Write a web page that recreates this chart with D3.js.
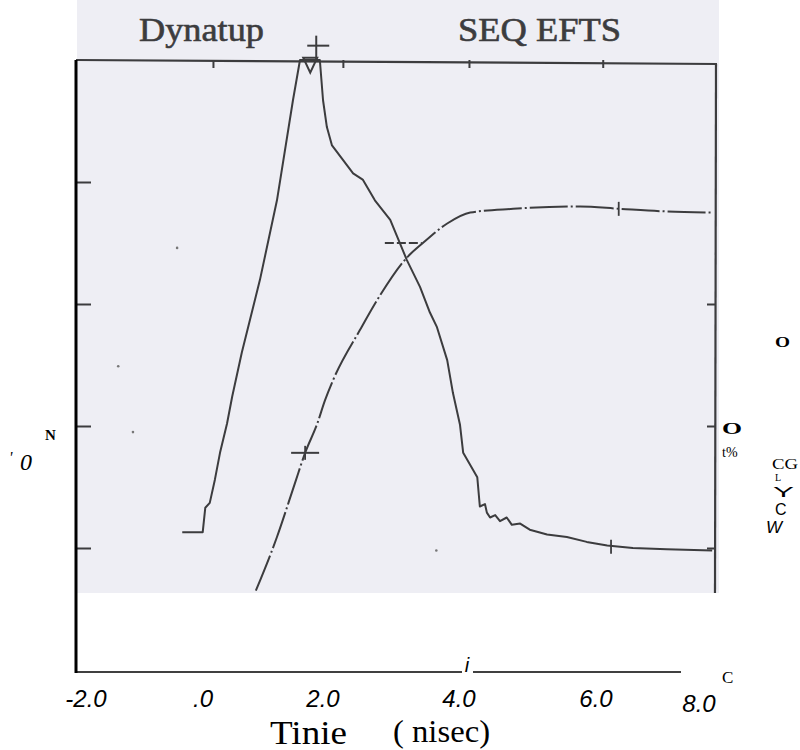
<!DOCTYPE html>
<html>
<head>
<meta charset="utf-8">
<script src="https://cdn.jsdelivr.net/npm/d3@7"></script>
<style>
  body { margin: 0; background: #fff; }
  svg { display: block; }
</style>
</head>
<body>
<div id="chart"></div>
<script>
// load trace and energy trace (time ms, arbitrary units)
var forceT = [-0.34, -0.02, 0.02, 0.09, 0.17, 0.25, 0.36, 0.44, 0.59, 0.875, 1.14, 1.39, 1.5, 1.81, 1.86, 1.92, 2.0,
              2.33, 2.48, 2.67, 2.91, 3.02, 3.17, 3.375, 3.53, 3.64, 3.80, 3.89, 4.0, 4.05, 4.27, 4.31, 4.39,
              4.42, 4.47, 4.55, 4.625, 4.73, 4.81, 4.94, 5.09, 5.36, 5.67, 5.98, 6.30, 6.70, 7.23, 7.94];
var forceV = [1.13, 1.13, 1.33, 1.37, 1.56, 1.78, 2.02, 2.24, 2.60, 3.20, 3.85, 4.67, 5.0, 5.0, 4.67, 4.45, 4.30,
              4.07, 4.02, 3.85, 3.69, 3.55, 3.36, 3.14, 2.93, 2.81, 2.54, 2.27, 2.01, 1.78, 1.58, 1.34, 1.36,
              1.29, 1.25, 1.27, 1.22, 1.25, 1.19, 1.20, 1.15, 1.11, 1.09, 1.05, 1.02, 1.00, 0.99, 0.98];

var energyT = [0.81, 1.14, 1.42, 1.58, 1.77, 1.89, 2.02, 2.44, 2.75, 3.17, 3.42, 3.80, 4.16, 4.83, 5.875, 6.5, 7.17, 7.95];
var energyV = [0.65, 1.09, 1.53, 1.78, 2.02, 2.21, 2.38, 2.79, 3.07, 3.38, 3.50, 3.66, 3.75, 3.78, 3.80, 3.78, 3.76, 3.75];

// little cursor marks drawn on the traces
var markT = [1.58, 3.06, 6.48, 6.36];
var markV = [1.78, 3.50, 3.78, 1.01];
var markKind = ["cross", "dash", "tick", "tick"];

// specks in the scan
var speckT = [-1.34, -1.11, 3.63, -0.42];
var speckV = [2.49, 1.95, 0.98, 3.46];

var xTickVals = [-2, 0, 2, 4, 6, 8];
var xTickLabels = ["-2.0", ".0", "2.0", "4.0", "6.0", "8.0"];
var topTicks = [0.14, 2.17, 4.14, 6.23];
var leftTicks = [1, 2, 3, 4];
var rightTicks = [1, 2, 3];

var width = 800, height = 750;

var x = d3.scaleLinear().domain([-2, 8]).range([76, 716]);
var y = d3.scaleLinear().domain([0, 5]).range([670, 60]);
// the printed tick labels sit unevenly under the axis
var xLab = d3.scaleLinear().domain(xTickVals).range([86, 203, 323, 459, 596, 699]);

var ink = "#3c3c3e";

var svg = d3.select("#chart").append("svg")
    .attr("width", width)
    .attr("height", height);

// scanned page
svg.append("rect")
    .attr("x", 77).attr("y", 0)
    .attr("width", 642).attr("height", 593)
    .attr("fill", "#eeeef4");

svg.append("text")
    .attr("x", 139).attr("y", 41)
    .attr("textLength", 125).attr("lengthAdjust", "spacingAndGlyphs")
    .style("font-family", "'Liberation Serif', serif")
    .style("font-size", "33px")
    .attr("fill", ink).attr("stroke", ink).attr("stroke-width", 0.6)
    .text("Dynatup");

svg.append("text")
    .attr("x", 458).attr("y", 41)
    .attr("textLength", 163).attr("lengthAdjust", "spacingAndGlyphs")
    .style("font-family", "'Liberation Serif', serif")
    .style("font-size", "33px")
    .attr("fill", ink).attr("stroke", ink).attr("stroke-width", 0.6)
    .text("SEQ EFTS");

// frame of the scanned plot
svg.append("line")
    .attr("x1", x(-2)).attr("y1", y(5))
    .attr("x2", x(8) + 1).attr("y2", y(5) + 4)
    .attr("stroke", ink).attr("stroke-width", 2.2);

svg.append("line")
    .attr("x1", x(8)).attr("y1", y(5) + 4)
    .attr("x2", x(8) - 1).attr("y2", 593)
    .attr("stroke", ink).attr("stroke-width", 2.2);

var topAxis = d3.axisBottom(x).tickValues(topTicks).tickSize(8).tickFormat("");
svg.append("g")
    .attr("class", "top axis")
    .attr("transform", "translate(0," + y(5) + ")")
    .call(topAxis);

var leftAxis = d3.axisRight(y).tickValues(leftTicks).tickSize(15).tickFormat("");
svg.append("g")
    .attr("class", "left axis")
    .attr("transform", "translate(" + x(-2) + ",0)")
    .call(leftAxis);

var rightAxis = d3.axisLeft(y).tickValues(rightTicks).tickSize(9).tickFormat("");
svg.append("g")
    .attr("class", "right axis")
    .attr("transform", "translate(" + x(8) + ",0)")
    .call(rightAxis);

svg.selectAll(".axis .domain").remove();
svg.selectAll(".axis line").attr("stroke", ink).attr("stroke-width", 2);

// traces
var line = d3.line()
    .x(function(d) { return x(d[0]); })
    .y(function(d) { return y(d[1]); });

svg.append("path")
    .datum(d3.zip(forceT, forceV))
    .attr("fill", "none")
    .attr("stroke", ink)
    .attr("stroke-width", 2)
    .attr("stroke-linejoin", "round")
    .attr("d", line);

svg.append("path")
    .datum(d3.zip(energyT, energyV))
    .attr("fill", "none")
    .attr("stroke", ink)
    .attr("stroke-width", 2)
    .attr("stroke-dasharray", "38,3,2,3")
    .attr("d", line.curve(d3.curveMonotoneX));

// cursor marks
var marks = svg.selectAll(".mark")
    .data(d3.zip(markT, markV, markKind))
  .enter().append("g")
    .attr("class", "mark")
    .attr("transform", function(d) { return "translate(" + x(d[0]) + "," + y(d[1]) + ")"; });

marks.filter(function(d) { return d[2] != "tick"; })
  .append("line")
    .attr("x1", function(d) { return d[2] == "cross" ? -14 : -15; })
    .attr("x2", function(d) { return d[2] == "cross" ? 14 : 22; })
    .attr("stroke", ink).attr("stroke-width", 2)
    .attr("stroke-dasharray", function(d) { return d[2] == "dash" ? "9,3" : null; });

marks.filter(function(d) { return d[2] != "dash"; })
  .append("line")
    .attr("y1", -7).attr("y2", 7)
    .attr("stroke", ink).attr("stroke-width", 1.8);

// peak marker above the clipped trace
var peak = svg.append("g")
    .attr("transform", "translate(" + x(1.66) + "," + y(4.97) + ")");
peak.append("path")
    .attr("d", "M-7,-6L7,-6L0,9Z")
    .attr("fill", "none").attr("stroke", ink).attr("stroke-width", 2);
peak.append("line")
    .attr("x1", 6).attr("x2", 6).attr("y1", -28).attr("y2", -4)
    .attr("stroke", ink).attr("stroke-width", 2);
peak.append("line")
    .attr("x1", -3).attr("x2", 19).attr("y1", -18).attr("y2", -18)
    .attr("stroke", ink).attr("stroke-width", 2);

svg.selectAll(".speck")
    .data(d3.zip(speckT, speckV))
  .enter().append("circle")
    .attr("class", "speck")
    .attr("cx", function(d) { return x(d[0]); })
    .attr("cy", function(d) { return y(d[1]); })
    .attr("r", 1.3)
    .attr("fill", "#777");

// redrawn axes below the scan
svg.append("line")
    .attr("x1", x(-2)).attr("y1", y(5))
    .attr("x2", x(-2)).attr("y2", 673)
    .attr("stroke", "#000").attr("stroke-width", 3);

svg.append("line")
    .attr("x1", x(-2)).attr("y1", 672).attr("x2", 462).attr("y2", 672)
    .attr("stroke", "#000").attr("stroke-width", 1.6);
svg.append("line")
    .attr("x1", 473).attr("y1", 672).attr("x2", 681).attr("y2", 672)
    .attr("stroke", "#000").attr("stroke-width", 1.6);

svg.append("text")
    .attr("x", 467).attr("y", 672)
    .attr("text-anchor", "middle")
    .style("font-family", "'Liberation Sans', Arial, sans-serif")
    .style("font-style", "italic")
    .style("font-size", "20px")
    .text("i");

svg.selectAll(".xlab")
    .data(xTickVals)
  .enter().append("text")
    .attr("class", "xlab")
    .attr("x", function(d) { return xLab(d); })
    .attr("y", function(d) { return d == 8 ? 712 : 707; })
    .attr("text-anchor", "middle")
    .style("font-family", "'Liberation Sans', Arial, sans-serif")
    .style("font-style", "italic")
    .style("font-size", "24px")
    .text(function(d, i) { return xTickLabels[i]; });

var serif = "'Liberation Serif', 'Times New Roman', serif";
var sans = "'Liberation Sans', Arial, sans-serif";

function label(t, px, py, size, opts) {
  opts = opts || {};
  var el = svg.append("text")
      .attr("x", px).attr("y", py)
      .style("font-family", opts.family || serif)
      .style("font-size", size + "px")
      .style("font-weight", opts.bold ? "bold" : "normal")
      .style("font-style", opts.italic ? "italic" : "normal")
      .text(t);
  if (opts.len) el.attr("textLength", opts.len).attr("lengthAdjust", "spacingAndGlyphs");
  return el;
}

label("Tinie", 270, 744, 33, {len: 77});
label("( nisec)", 393, 742, 32, {len: 97});
label("C", 722, 683, 17);

label("N", 45, 440, 15, {bold: true});
label("'", 9, 463, 16, {italic: true});
label("0", 20, 470, 24, {italic: true});

label("O", 775, 347, 14, {bold: true, len: 15});
label("O", 722, 434, 16, {bold: true, len: 20});
label("t%", 722, 457, 14);
label("CG", 772, 469, 14, {len: 26});
label("L", 775, 481, 10);
label("Y", 773, 497, 15, {family: sans, len: 21});
label("C", 775, 515, 16, {family: sans});
label("W", 766, 533, 17, {family: sans, italic: true});
</script>
</body>
</html>
